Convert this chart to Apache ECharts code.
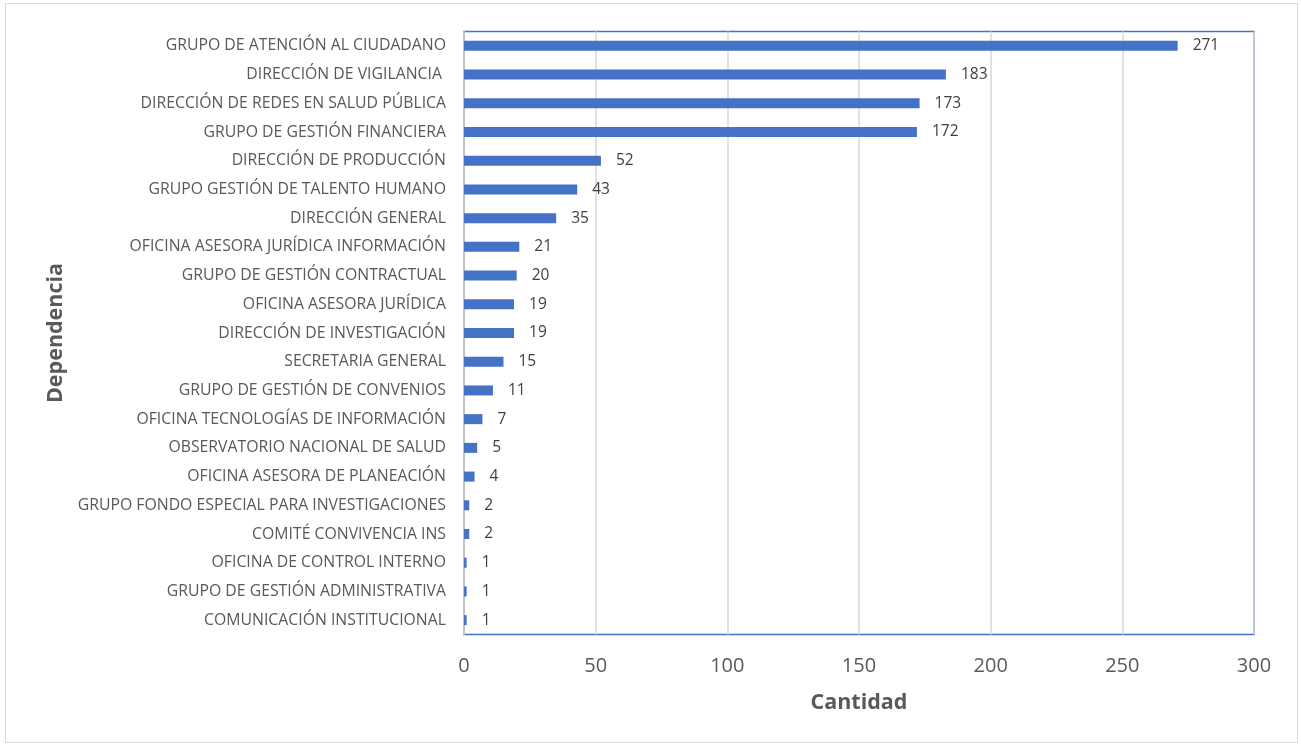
<!DOCTYPE html>
<html><head><meta charset="utf-8">
<script src="https://cdn.jsdelivr.net/npm/echarts@6/dist/echarts.min.js"></script>
<style>html,body{margin:0;padding:0;background:#fff}#c{width:1301px;height:746px}
#frame{position:absolute;left:5px;top:3px;width:1293px;height:740px;border:1px solid #d9d9d9;box-sizing:border-box;pointer-events:none}</style>
</head><body><div id="c"></div><div id="frame"></div>
<script>
const categories = [
"GRUPO DE ATENCIÓN AL CIUDADANO",
"DIRECCIÓN DE VIGILANCIA ",
"DIRECCIÓN DE REDES EN SALUD PÚBLICA",
"GRUPO DE GESTIÓN FINANCIERA",
"DIRECCIÓN DE PRODUCCIÓN",
"GRUPO GESTIÓN DE TALENTO HUMANO",
"DIRECCIÓN GENERAL",
"OFICINA ASESORA JURÍDICA INFORMACIÓN",
"GRUPO DE GESTIÓN CONTRACTUAL",
"OFICINA ASESORA JURÍDICA",
"DIRECCIÓN DE INVESTIGACIÓN",
"SECRETARIA GENERAL",
"GRUPO DE GESTIÓN DE CONVENIOS",
"OFICINA TECNOLOGÍAS DE INFORMACIÓN",
"OBSERVATORIO NACIONAL DE SALUD",
"OFICINA ASESORA DE PLANEACIÓN",
"GRUPO FONDO ESPECIAL PARA INVESTIGACIONES",
"COMITÉ CONVIVENCIA INS",
"OFICINA DE CONTROL INTERNO",
"GRUPO DE GESTIÓN ADMINISTRATIVA",
"COMUNICACIÓN INSTITUCIONAL"
];
const values = [271,183,173,172,52,43,35,21,20,19,19,15,11,7,5,4,2,2,1,1,1];
const xTicks = [0,50,100,150,200,250,300];
const xTitle = "Cantidad";
const yTitle = "Dependencia";

const chart = echarts.init(document.getElementById('c'), null, {renderer:'canvas'});
const font = "'Open Sans', 'Noto Sans', sans-serif";
chart.setOption({
  animation:false,
  grid:{left:464,top:31.5,width:790,height:603,show:true,borderColor:'#4472c4',borderWidth:1.5,containLabel:false},
  xAxis:{type:'value',min:xTicks[0],max:xTicks[xTicks.length-1],interval:xTicks[1]-xTicks[0],
    axisLine:{show:false},axisTick:{show:false},
    splitLine:{lineStyle:{color:'#d9d9d9',width:1.5}},
    axisLabel:{color:'#595959',fontSize:20,fontFamily:font,margin:22},
    name:xTitle,nameLocation:'middle',nameGap:57,
    nameTextStyle:{color:'#595959',fontSize:21.5,fontWeight:'bold',fontFamily:font}},
  yAxis:{type:'category',data:categories,inverse:true,
    axisLine:{show:true,lineStyle:{color:'#bfbfbf',width:1.5}},axisTick:{show:false},
    axisLabel:{color:'#595959',fontSize:15.8,fontFamily:font,margin:18},
    name:yTitle,nameLocation:'middle',nameGap:395,nameRotate:90,
    nameTextStyle:{color:'#595959',fontSize:21.5,fontWeight:'bold',fontFamily:font}},
  series:[{type:'bar',data:values,barWidth:10,itemStyle:{color:'#4472c4'},
    label:{show:true,position:'right',distance:15,color:'#404040',fontSize:15.5,fontFamily:font}}]
});
</script></body></html>
